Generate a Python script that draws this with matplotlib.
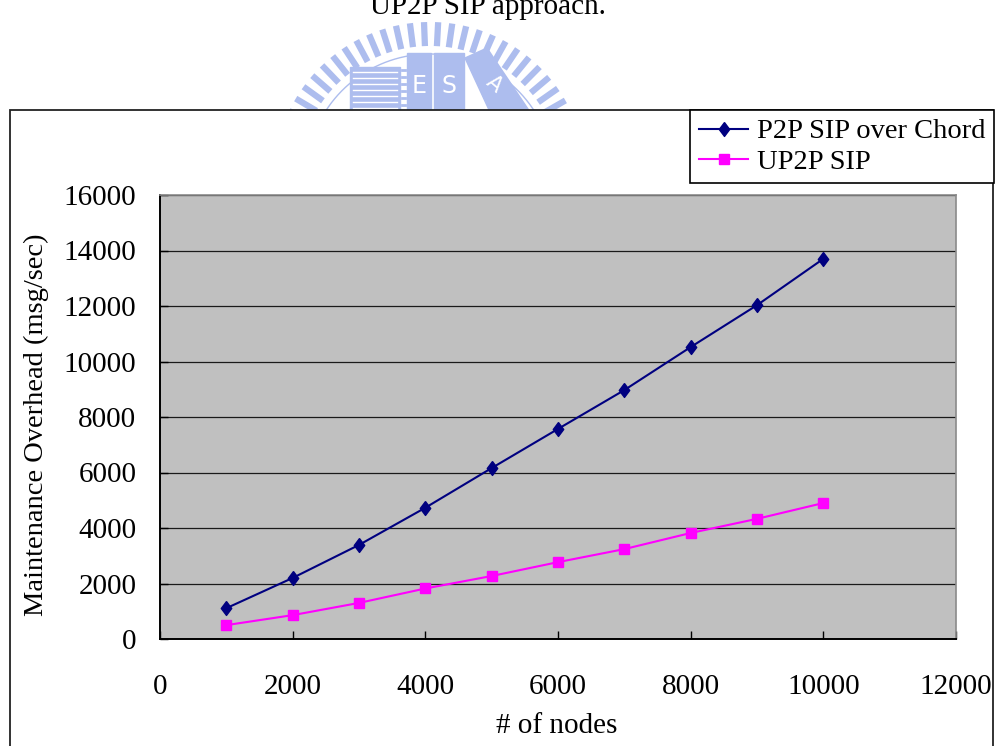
import matplotlib
matplotlib.use("Agg")
import matplotlib.pyplot as plt
import numpy as np
from matplotlib.patches import Rectangle, Polygon

# number of nodes vs. maintenance overhead (msg/sec)
nodes = [1000, 2000, 3000, 4000, 5000, 6000, 7000, 8000, 9000, 10000]
chord_overhead = [1110, 2200, 3390, 4730, 6160, 7570, 8970, 10520, 12030, 13700]
up2p_overhead = [500, 860, 1300, 1820, 2270, 2770, 3240, 3820, 4330, 4900]

series_names = ["P2P SIP over Chord", "UP2P SIP"]
x_ticks = [0, 2000, 4000, 6000, 8000, 10000, 12000]
y_ticks = [0, 2000, 4000, 6000, 8000, 10000, 12000, 14000, 16000]

plt.rcParams["font.family"] = ["Liberation Serif", "DejaVu Serif"]
plt.rcParams["font.size"] = 21

W, H = 999, 746
fig = plt.figure(figsize=(W / 100, H / 100), dpi=100, facecolor="white")

# page layer in pixel coordinates: caption, logo watermark, chart frame
page = fig.add_axes([0, 0, 1, 1], zorder=0)
page.set_xlim(0, W)
page.set_ylim(H, 0)
page.axis("off")

page.text(488, 14, "UP2P SIP approach.", ha="center", va="baseline", fontsize=21)

wm = "#adbdee"
cx, cy = 430, 178
for ang in np.arange(9, 172, 5.2):
    a = np.radians(ang)
    r0, r1 = 132, 156
    page.plot([cx + r0 * np.cos(a), cx + r1 * np.cos(a)],
              [cy - r0 * np.sin(a), cy - r1 * np.sin(a)],
              color=wm, lw=4.5, solid_capstyle="butt", zorder=1)
t = np.linspace(np.radians(10), np.radians(170), 200)
page.plot(cx + 124 * np.cos(t), cy - 124 * np.sin(t), color=wm, lw=1, zorder=1)

# building blocks of the logo
page.add_patch(Rectangle((350, 67), 50, 45, color=wm, zorder=1))
for yy in range(72, 110, 6):
    page.plot([353, 397], [yy, yy], color="white", lw=1, zorder=2)
for yy in range(70, 110, 7):
    page.plot([402, 405], [yy, yy], color=wm, lw=2, zorder=1)
page.add_patch(Rectangle((407, 53), 24, 60, color=wm, zorder=1))
page.add_patch(Rectangle((434, 53), 30, 60, color=wm, zorder=1))
page.add_patch(Polygon([(465, 58), (487, 48), (530, 112), (490, 112)], color=wm, zorder=1))
page.text(419, 86, "E", color="white", ha="center", va="center", fontsize=17,
          family="DejaVu Sans", zorder=2)
page.text(449, 86, "S", color="white", ha="center", va="center", fontsize=17,
          family="DejaVu Sans", zorder=2)
page.text(494, 84, "A", color="white", ha="center", va="center", fontsize=15,
          family="DejaVu Sans", rotation=-40, zorder=2)

# chart frame hides the lower part of the logo
page.add_patch(Rectangle((10, 110), 983, 660, facecolor="white",
                         edgecolor="#222222", lw=1.3, zorder=3))

ax = fig.add_axes([160 / W, 1 - 639 / H, (956 - 160) / W, (639 - 195) / H], zorder=2)
ax.set_facecolor("#c0c0c0")

diamond = [(0, 1), (0.75, 0), (0, -1), (-0.75, 0), (0, 1)]
ax.plot(nodes, chord_overhead, color="#000080", lw=1.5, marker=diamond,
        markersize=10, label=series_names[0], zorder=3)
ax.plot(nodes, up2p_overhead, color="#ff00ff", lw=1.5, marker="s",
        markersize=7.5, label=series_names[1], zorder=3)

ax.set_xlim(0, 12000)
ax.set_ylim(0, 16000)
ax.set_xticks(x_ticks)
ax.set_yticks(y_ticks)
ax.yaxis.grid(True, color="#1a1a1a", lw=0.9)
ax.set_axisbelow(True)
ax.tick_params(axis="x", direction="in", length=6, width=1, pad=25, labelsize=21)
ax.tick_params(axis="y", direction="in", length=6, width=1, pad=17, labelsize=21)

for side in ["left", "bottom"]:
    ax.spines[side].set_color("black")
    ax.spines[side].set_linewidth(1.4)
for side in ["top", "right"]:
    ax.spines[side].set_color("#8a8a8a")
    ax.spines[side].set_linewidth(1.2)

fig.text(557 / W, 1 - 726 / H, "# of nodes", ha="center", va="center", fontsize=21)
fig.text(36 / W, 1 - 425 / H, "Maintenance Overhead (msg/sec)", ha="center",
         va="center", rotation=90, fontsize=20.5)

leg = fig.legend(loc="upper right", bbox_to_anchor=(994 / W, 1 - 110 / H),
                 frameon=True, fancybox=False, edgecolor="black", framealpha=1,
                 borderpad=0.3, borderaxespad=0, handlelength=1.75,
                 handletextpad=0.3, labelspacing=0.15, fontsize=20.5)
leg.get_frame().set_linewidth(1.2)
leg.set_zorder(5)

fig.savefig("out.png", dpi=100, facecolor="white")
